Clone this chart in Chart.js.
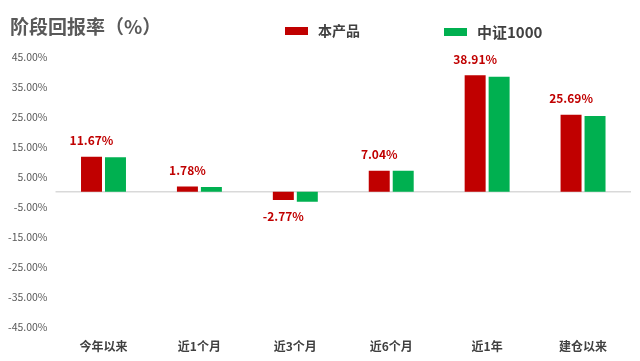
<!DOCTYPE html>
<html>
<head>
<meta charset="utf-8">
<script src="https://cdn.jsdelivr.net/npm/chart.js@4/dist/chart.umd.min.js"></script>
<style>
  html, body { margin: 0; padding: 0; background: #fff; }
  #wrap { width: 640px; height: 361px; }
</style>
</head>
<body>
<div id="wrap"><canvas id="chart"></canvas></div>
<script>
// 阶段回报率 chart

var categories = ['今年以来', '近1个月', '近3个月', '近6个月', '近1年', '建仓以来'];
var productValues = [11.67, 1.78, -2.77, 7.04, 38.91, 25.69];
var indexValues = [11.5, 1.6, -3.3, 7.0, 38.4, 25.3];
var seriesNames = ['本产品', '中证1000'];
var seriesColors = ['#C00000', '#00B050'];
var yMin = -45, yMax = 45, yStep = 10;

var FONT = '"Noto Sans CJK SC", "Microsoft YaHei", sans-serif';

// title, legend row, zero line and value labels
var extras = {
    id: 'extras',
    beforeDatasetsDraw: function (chart) {
        var c = chart.ctx, a = chart.chartArea;
        var y0 = chart.scales.y.getPixelForValue(0);
        c.save();
        c.strokeStyle = '#d9d9d9';
        c.lineWidth = 1.5;
        c.beginPath();
        c.moveTo(a.left, y0);
        c.lineTo(a.right, y0);
        c.stroke();
        c.restore();
    },
    afterDatasetsDraw: function (chart) {
        var c = chart.ctx;
        var meta = chart.getDatasetMeta(0);
        c.save();
        c.font = 'bold 12px ' + FONT;
        c.fillStyle = seriesColors[0];
        c.textAlign = 'center';
        c.textBaseline = 'middle';
        meta.data.forEach(function (bar, i) {
            var v = productValues[i];
            var y = v >= 0 ? bar.y - 16 : bar.y + 16;
            c.fillText(v.toFixed(2) + '%', bar.x, y);
        });
        c.restore();
    },
    afterDraw: function (chart) {
        var c = chart.ctx;
        c.save();
        c.font = 'bold 19px ' + FONT;
        c.fillStyle = '#595959';
        c.textAlign = 'left';
        c.textBaseline = 'middle';
        c.fillText('阶段回报率（%）', 10, 27);

        // legend
        var boxX = [285, 444];
        var boxY = [27, 28];
        var sizes = [14, 15];
        seriesNames.forEach(function (name, i) {
            c.fillStyle = seriesColors[i];
            c.fillRect(boxX[i], boxY[i], 23, 8);
            c.fillStyle = '#404040';
            c.font = 'bold ' + sizes[i] + 'px ' + FONT;
            c.fillText(name, boxX[i] + 33, boxY[i] + 4);
        });
        c.restore();
    }
};

var ctx = document.getElementById('chart').getContext('2d');
var chart = new Chart(ctx, {
    type: 'bar',
    data: {
        labels: categories,
        datasets: [{
            label: seriesNames[0],
            data: productValues,
            backgroundColor: seriesColors[0],
            categoryPercentage: 0.5,
            barPercentage: 0.875
        }, {
            label: seriesNames[1],
            data: indexValues,
            backgroundColor: seriesColors[1],
            categoryPercentage: 0.5,
            barPercentage: 0.875
        }]
    },
    options: {
        responsive: true,
        maintainAspectRatio: false,
        animation: false,
        layout: { padding: { top: 57, right: 9, left: 0, bottom: -6 } },
        plugins: {
            tooltip: { enabled: false },
            legend: { display: false }
        },
        scales: {
            x: {
                grid: { display: false, drawTicks: false },
                border: { display: false },
                ticks: {
                    color: '#404040',
                    padding: 13,
                    font: { family: FONT, size: 12, weight: 'bold' }
                }
            },
            y: {
                min: yMin,
                max: yMax,
                grid: { display: false, drawTicks: false },
                border: { display: false },
                ticks: {
                    stepSize: yStep,
                    color: '#595959',
                    padding: 8,
                    font: { family: FONT, size: 10.5 },
                    callback: function (v) { return v.toFixed(2) + '%'; }
                }
            }
        }
    },
    plugins: [extras]
});
</script>
</body>
</html>
